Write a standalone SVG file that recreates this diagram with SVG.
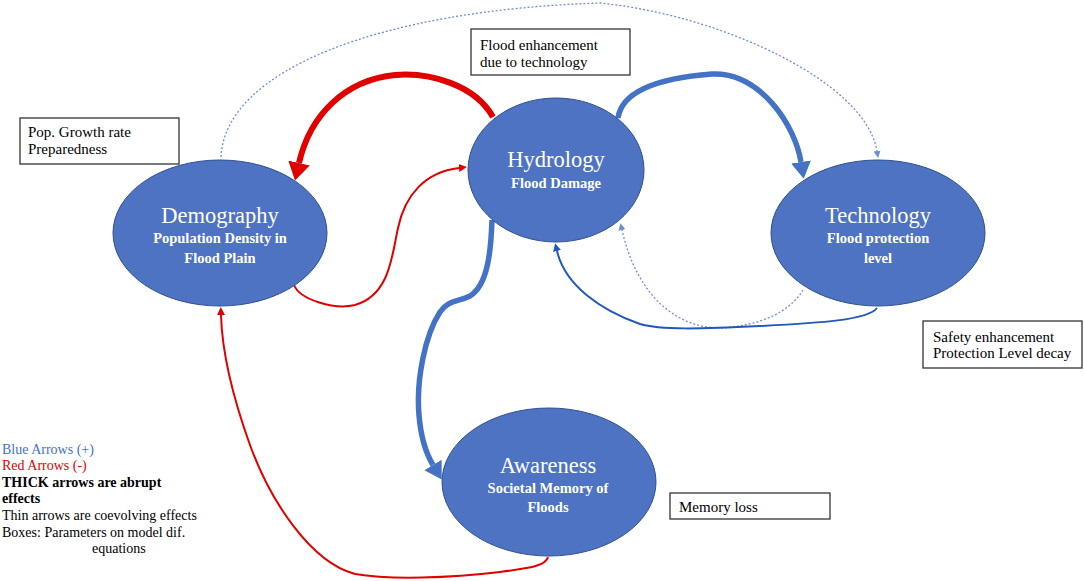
<svg xmlns="http://www.w3.org/2000/svg" width="1084" height="581" viewBox="0 0 1084 581">
<style>
text{font-family:"Liberation Serif","Times New Roman",Times,"DejaVu Serif",serif}
.node ellipse{fill:#4E73C3;stroke:#2F4F8F;stroke-width:1}
.title{font-size:22.5px;fill:#fff;text-anchor:middle}
.sub{font-size:14.5px;font-weight:bold;fill:#fff;text-anchor:middle}
.box rect{fill:#fff;stroke:#333;stroke-width:1.3}
.box text{font-size:15px;fill:#000}
.legend text{font-size:14px;fill:#000}
.thickred{fill:none;stroke:#E00000;stroke-width:6}
.thinred{fill:none;stroke:#E00000;stroke-width:2}
.thickblue{fill:none;stroke:#4472C4;stroke-width:5.5}
.thinblue{fill:none;stroke:#2058BC;stroke-width:2}
.dotblue{fill:none;stroke:#6E8ED2;stroke-width:1.3;stroke-dasharray:2 2}
</style>
<defs>
<marker id="bigRed" markerUnits="userSpaceOnUse" markerWidth="20" markerHeight="24" refX="0" refY="12" orient="auto"><path d="M0,1 L18,12 L0,23 Z" fill="#E00000"/></marker>
<marker id="bigBlue" markerUnits="userSpaceOnUse" markerWidth="20" markerHeight="24" refX="0" refY="12" orient="auto"><path d="M0,2 L17,12 L0,22 Z" fill="#4472C4"/></marker>
<marker id="smRed" markerUnits="userSpaceOnUse" markerWidth="10" markerHeight="10" refX="0" refY="5" orient="auto"><path d="M0,1 L8,5 L0,9 Z" fill="#E00000"/></marker>
<marker id="smBlue" markerUnits="userSpaceOnUse" markerWidth="10" markerHeight="10" refX="0" refY="5" orient="auto"><path d="M0,1 L8,5 L0,9 Z" fill="#2058BC"/></marker>
<marker id="smDot" markerUnits="userSpaceOnUse" markerWidth="10" markerHeight="10" refX="0" refY="5" orient="auto"><path d="M0,1.5 L7,5 L0,8.5 Z" fill="#6E8ED2"/></marker>
</defs>
<rect width="1084" height="581" fill="#fff"/>

<g id="connectors">
<path class="dotblue" d="M221 157 C225 70 380 10 600 3 C720 15 865 81 877 151" marker-end="url(#smDot)"/>
<path class="dotblue" d="M803 290 C790 312 760 326 720 328 C680 328 638 300 622 230" marker-end="url(#smDot)"/>
<path class="thickred" d="M493 117 C475 85 430 72 395 75 C345 80 310 115 299 163" marker-end="url(#bigRed)"/>
<path class="thinred" d="M294 285 C300 300 335 310 355 305 C390 295 392 255 398 228 C405 195 425 172 459 168" marker-end="url(#smRed)"/>
<path class="thickblue" d="M618 118 C622 90 660 78 712 74 C760 72 795 125 801 162" marker-end="url(#bigBlue)"/>
<path class="thinblue" d="M877 308 C868 320 820 323 760 326 C700 329 660 330 640 324 C600 310 565 285 557 251" marker-end="url(#smBlue)"/>
<path class="thickblue" d="M492 220 C491 250 488 285 470 296 C458 302 448 300 440 312 C425 335 416 380 419 415 C421 440 427 455 433 465" marker-end="url(#bigBlue)"/>
<path class="thinred" d="M548 557 C546 566 530 568 500 572 C450 578 390 580 355 574 C310 562 270 500 250 445 C232 395 222 350 221 315" marker-end="url(#smRed)"/>
</g>

<g id="demography" class="node">
<ellipse cx="220" cy="233" rx="107" ry="73"/>
<text class="title" x="220" y="223">Demography</text>
<text class="sub" x="220" y="243">Population Density in</text>
<text class="sub" x="220" y="263">Flood Plain</text>
</g>
<g id="hydrology" class="node">
<ellipse cx="556" cy="170" rx="88" ry="72"/>
<text class="title" x="556" y="167">Hydrology</text>
<text class="sub" x="556" y="188">Flood Damage</text>
</g>
<g id="technology" class="node">
<ellipse cx="878" cy="233" rx="107" ry="73"/>
<text class="title" x="878" y="223">Technology</text>
<text class="sub" x="878" y="243">Flood protection</text>
<text class="sub" x="878" y="263">level</text>
</g>
<g id="awareness" class="node">
<ellipse cx="549" cy="482" rx="107" ry="74"/>
<text class="title" x="548" y="473">Awareness</text>
<text class="sub" x="548" y="493">Societal Memory of</text>
<text class="sub" x="548" y="512">Floods</text>
</g>

<g id="box-pop" class="box">
<rect x="20" y="118" width="159" height="46"/>
<text x="28" y="137">Pop. Growth rate</text>
<text x="28" y="154">Preparedness</text>
</g>
<g id="box-flood" class="box">
<rect x="471" y="29" width="159" height="46"/>
<text x="480" y="50">Flood enhancement</text>
<text x="480" y="67">due to technology</text>
</g>
<g id="box-safety" class="box">
<rect x="923" y="321" width="159" height="47"/>
<text x="933" y="342">Safety enhancement</text>
<text x="933" y="358">Protection Level decay</text>
</g>
<g id="box-memory" class="box">
<rect x="670" y="493" width="160" height="26"/>
<text x="679" y="512">Memory loss</text>
</g>

<g id="legend" class="legend">
<text x="2" y="454" style="fill:#4472C4">Blue Arrows (+)</text>
<text x="2" y="470" style="fill:#E00000">Red Arrows (-)</text>
<text x="2" y="487" font-weight="bold">THICK arrows are abrupt</text>
<text x="2" y="503" font-weight="bold">effects</text>
<text x="2" y="520">Thin arrows are coevolving effects</text>
<text x="2" y="537">Boxes: Parameters on model dif.</text>
<text x="92" y="553">equations</text>
</g>
</svg>
